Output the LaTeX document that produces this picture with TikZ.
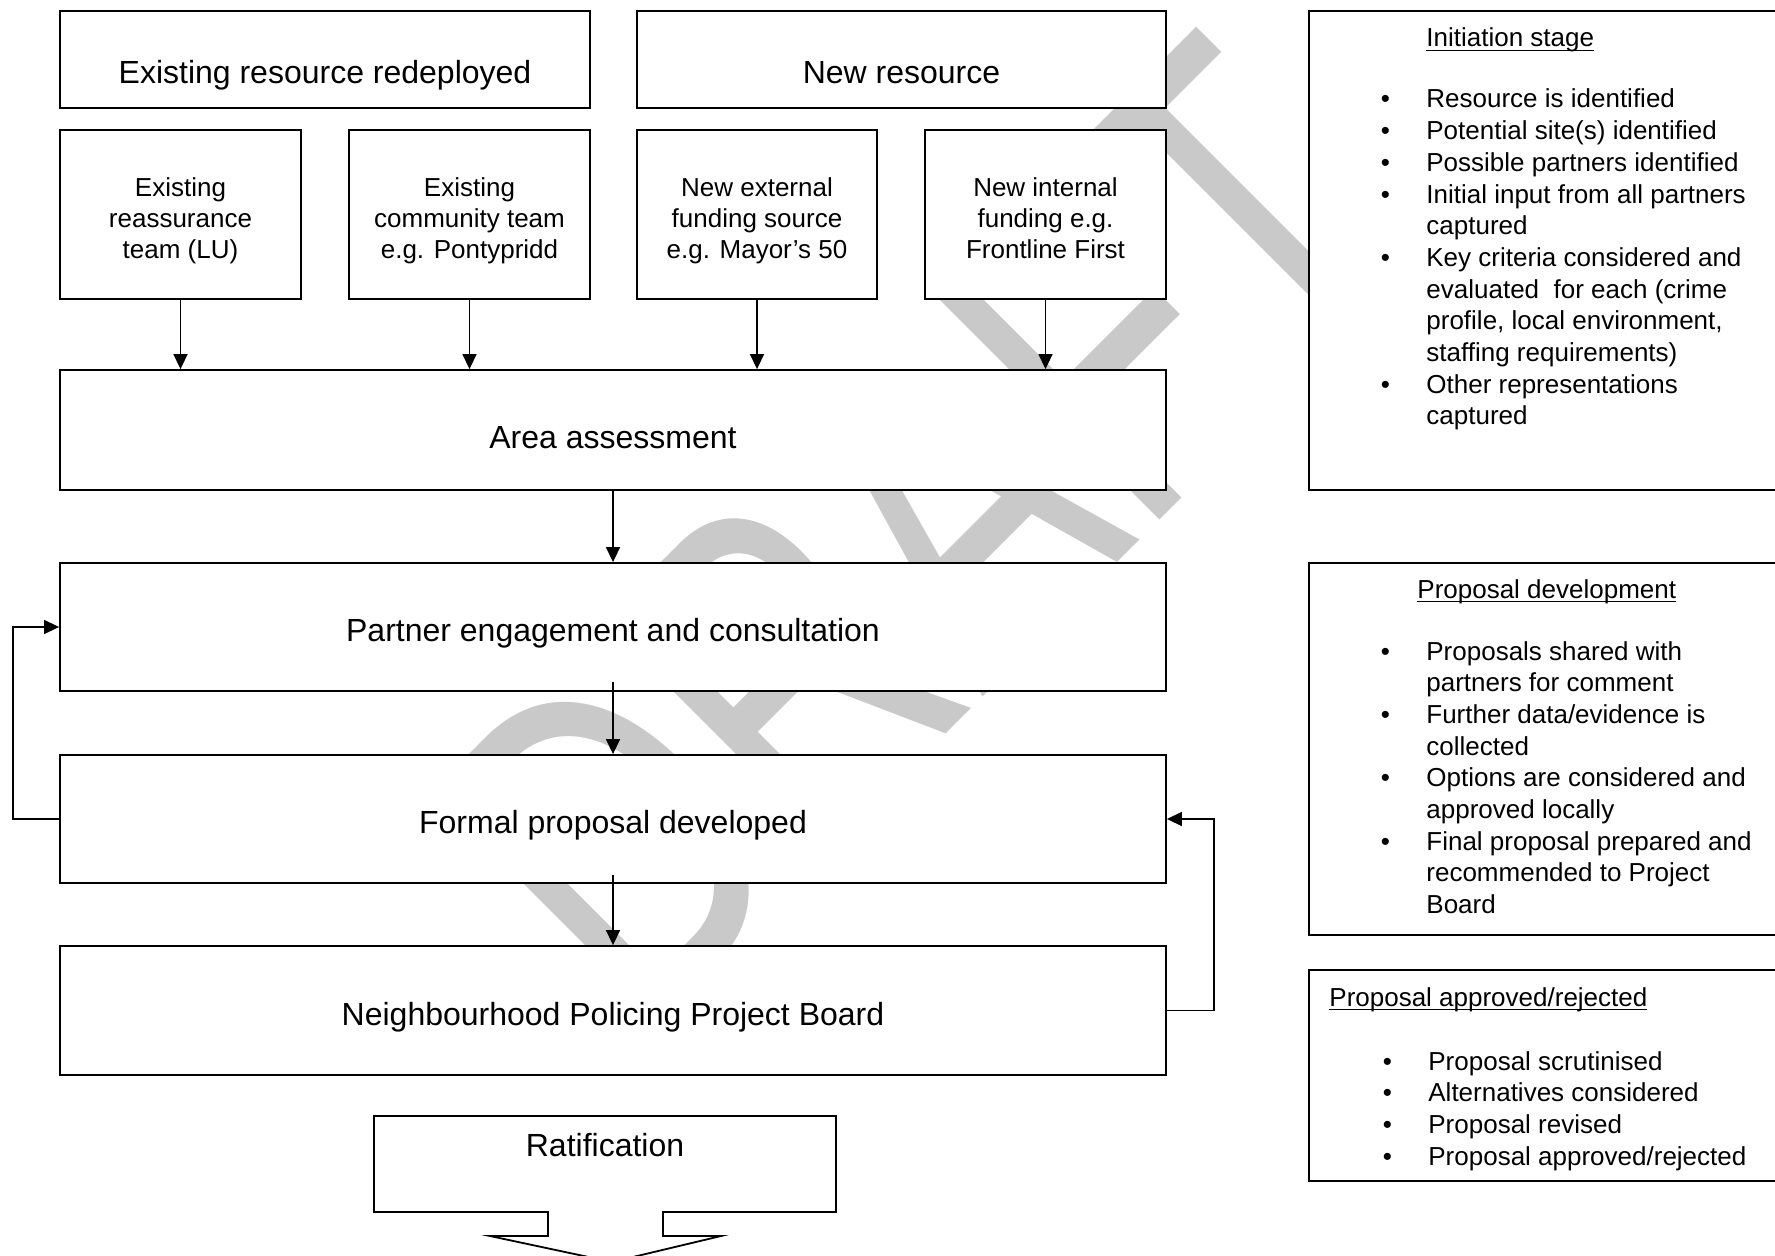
\documentclass[tikz,border=0pt]{standalone}
\usepackage{fontspec}
\setmainfont{Liberation Sans}
\usetikzlibrary{arrows.meta,fit}
\tikzset{
  box/.style={draw=black, line width=0.9pt, fill=white, inner sep=0pt},
  conn/.style={line width=0.75pt, -{Triangle[length=7.5pt,width=7pt]}},
  bigtxt/.style={font=\fontsize{16}{19}\selectfont, anchor=base, inner sep=0pt},
  lbl/.style={anchor=base, inner sep=0pt},
  pnl/.style={anchor=base west, inner sep=0pt, font=\fontsize{13}{15.85}\selectfont},
  wmark/.style={anchor=base west, rotate=45, yscale=1.4, text=black!21, font=\fontsize{167.5}{170}\selectfont, inner sep=0pt}
}
\newcommand\tbx[1]{\parbox[t]{115pt}{\fontsize{13}{15.35}\selectfont\centering #1}}
\newcommand\pbx[1]{\parbox[t]{172pt}{\fontsize{13}{15.85}\selectfont\raggedright #1}}
\newcommand\bl{\leavevmode\llap{\textbullet\hspace{18.2pt}}}
\newcommand\ulx[1]{\setbox0\hbox{#1}\rlap{\rule[-2pt]{\wd0}{0.65pt}}\box0}
\begin{document}
\begin{tikzpicture}[x=0.5pt,y=-0.5pt]
\useasboundingbox (0,0) rectangle (1775,1256);
\clip (0,0) rectangle (1775,1256);
% watermark
\node[wmark] (wm) at (640,1040) {DRAFT};
% top boxes
\node[box, fit={(60,11)(590,108)}] (A) {};
\node[box, fit={(637,11)(1166,108)}] (B) {};
\node[bigtxt] (At) at (325,83.5) {Existing resource redeployed};
\node[bigtxt] (Bt) at (901.5,83.5) {New resource};
% small boxes
\node[box, fit={(60,130)(301,299)}] (s1) {};
\node[box, fit={(349,130)(590,299)}] (s2) {};
\node[box, fit={(637,130)(877,299)}] (s3) {};
\node[box, fit={(925,130)(1166,299)}] (s4) {};
\node[lbl] (s1t) at (180.5,197) {\tbx{Existing\\reassurance\\team (LU)}};
\node[lbl] (s2t) at (469.5,197) {\tbx{Existing\\community team\\e.g. Pontypridd}};
\node[lbl] (s3t) at (757,197) {\tbx{New external\\funding source\\e.g. Mayor’s 50}};
\node[lbl] (s4t) at (1045.5,197) {\tbx{New internal\\funding e.g.\\Frontline First}};
% main column
\node[box, fit={(60,370)(1166,490)}] (area) {};
\node[box, fit={(60,563)(1166,691)}] (partner) {};
\node[box, fit={(60,755)(1166,883)}] (formal) {};
\node[box, fit={(60,946)(1166,1075)}] (board) {};
\node[bigtxt] (areat) at (613,449) {Area assessment};
\node[bigtxt] (partnert) at (613,641) {Partner engagement and consultation};
\node[bigtxt] (formalt) at (613,833) {Formal proposal developed};
\node[bigtxt] (boardt) at (613,1025) {Neighbourhood Policing Project Board};
% ratification callout
\draw[line width=0.9pt, fill=white] (374,1116) -- (836,1116) -- (836,1212) -- (663,1212) -- (663,1236) -- (721,1236) -- (612,1262) -- (490,1236) -- (548,1236) -- (548,1212) -- (374,1212) -- cycle;
\node[bigtxt] (rat) at (605,1156) {Ratification};
% connectors
\draw[conn] (s1.south) -- (s1.south |- area.north);
\draw[conn] (s2.south) -- (s2.south |- area.north);
\draw[conn] (s3.south) -- (s3.south |- area.north);
\draw[conn] (s4.south) -- (s4.south |- area.north);
\draw[conn] (area.south) -- (partner.north);
\draw[conn] ([yshift=5pt]partner.south) -- (formal.north);
\draw[conn] ([yshift=4.5pt]formal.south) -- (board.north);
\draw[conn] (formal.west) -- ++(-46,0) |- (partner.west);
\draw[conn] (board.east) -- ++(47,0) |- (formal.east);
% right panels
\node[box, fit={(1309,11)(1778,490)}] (p1) {};
\node[box, fit={(1309,563)(1778,935)}] (p2) {};
\node[box, fit={(1309,970)(1778,1181)}] (p3) {};
\node[pnl] (p1h) at (1426,47) {\ulx{Initiation stage}};
\node[pnl] (p1t) at (1426,108) {\pbx{\bl Resource is identified\\
\bl Potential site(s) identified\\
\bl Possible partners identified\\
\bl Initial input from all partners\\
captured\\
\bl Key criteria considered and\\
evaluated\ \ for each (crime\\
profile, local environment,\\
staffing requirements)\\
\bl Other representations\\
captured}};
\node[pnl] (p2h) at (1417,598) {\ulx{Proposal development}};
\node[pnl] (p2t) at (1426,660) {\pbx{\bl Proposals shared with\\
partners for comment\\
\bl Further data/evidence is\\
collected\\
\bl Options are considered and\\
approved locally\\
\bl Final proposal prepared and\\
recommended to Project\\
Board}};
\node[pnl] (p3h) at (1329,1006) {\ulx{Proposal approved/rejected}};
\node[pnl] (p3t) at (1428,1070) {\pbx{\bl Proposal scrutinised\\
\bl Alternatives considered\\
\bl Proposal revised\\
\bl Proposal approved/rejected}};
\end{tikzpicture}
\end{document}
